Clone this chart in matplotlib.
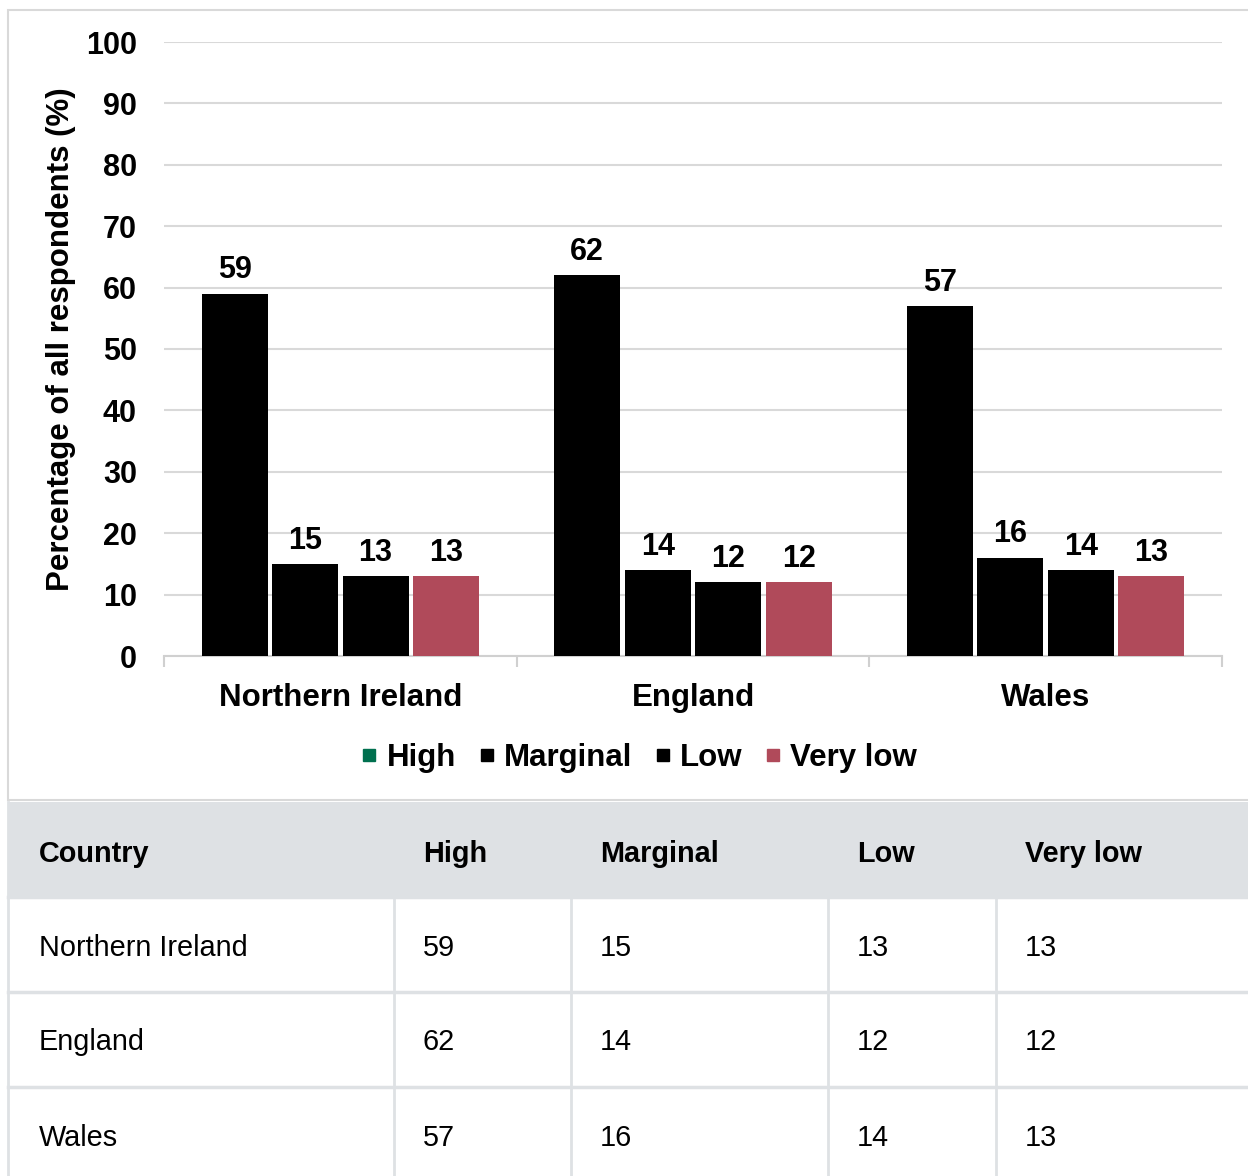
import matplotlib
matplotlib.use("Agg")
import matplotlib.pyplot as plt
from matplotlib.patches import Rectangle
from matplotlib.lines import Line2D
import numpy as np

plt.rcParams['font.family'] = ['Liberation Sans', 'DejaVu Sans']

# Food security levels by country (% of all respondents)
countries = ["Northern Ireland", "England", "Wales"]
levels = ["High", "Marginal", "Low", "Very low"]
high = [59, 62, 57]
marginal = [15, 14, 16]
low = [13, 12, 14]
very_low = [13, 12, 13]
y_ticks = [0, 10, 20, 30, 40, 50, 60, 70, 80, 90, 100]

bar_colors = ["#000000", "#000000", "#000000", "#b04a5a"]
legend_colors = ["#00704f", "#000000", "#000000", "#b04a5a"]

W, H = 1248, 1176
fig = plt.figure(figsize=(W / 100, H / 100), dpi=100)


def fx(px):
    return px / W


def fy(py):
    return 1 - py / H


# Panel frame around the chart
fig.add_artist(Rectangle((fx(8), fy(800)), fx(1260) - fx(8), fy(10) - fy(800),
                         transform=fig.transFigure, facecolor="white",
                         edgecolor="#d9d9d9", linewidth=1.5, zorder=0))

ax = fig.add_axes([fx(164), fy(656), fx(1222) - fx(164), fy(42) - fy(656)])
series = [high, marginal, low, very_low]
x = np.arange(len(countries))
pitch = 0.2
width = 0.187
for i, vals in enumerate(series):
    xs = x + (i - 1.5) * pitch
    ax.bar(xs, vals, width=width, color=bar_colors[i], zorder=3)
    for xb, v in zip(xs, vals):
        ax.annotate(f"{v}", (xb, v), xytext=(0, 6), textcoords="offset points",
                    ha="center", va="bottom", fontsize=22, fontweight="bold")

ax.set_xlim(-0.5, 2.5)
ax.set_ylim(0, 100)
ax.set_yticks(y_ticks)
ax.set_yticklabels([str(t) for t in y_ticks], fontsize=22, fontweight="bold")
ax.tick_params(axis="y", length=0, pad=19.5)
ax.yaxis.grid(True, color="#d9d9d9", linewidth=1.5, zorder=0)
ax.set_axisbelow(True)
for s in ["top", "right", "left"]:
    ax.spines[s].set_visible(False)
ax.spines["bottom"].set_color("#d0d0d0")
ax.spines["bottom"].set_linewidth(1.5)

ax.set_xticks([-0.5, 0.5, 1.5, 2.5])
ax.set_xticklabels([])
ax.tick_params(axis="x", which="major", length=8, width=1.5, color="#d0d0d0")
ax.set_xticks(x, minor=True)
ax.set_xticklabels(countries, minor=True, fontsize=22.5, fontweight="bold")
ax.tick_params(axis="x", which="minor", length=0, pad=19.5)

fig.text(fx(61), fy(339), "Percentage of all respondents (%)", rotation=90,
         ha="center", va="center", fontsize=22.5, fontweight="bold")

handles = [Line2D([0], [0], marker="s", linestyle="none", markersize=8.6,
                  markerfacecolor=c, markeredgecolor=c) for c in legend_colors]
fig.legend(handles, levels, loc="center", bbox_to_anchor=(fx(640), fy(758)),
           ncol=4, frameon=False, prop={"size": 22.5, "weight": "bold"},
           handletextpad=0.35, columnspacing=0.78, handlelength=0.4)

# Data table under the chart
col_edges = [8, 394, 571, 828, 996, 1260]
row_edges = [802, 897, 992, 1087, 1182]
grid_col = "#dee1e4"
fig.add_artist(Rectangle((fx(8), fy(897)), fx(1260) - fx(8), fy(802) - fy(897),
                         transform=fig.transFigure, facecolor=grid_col,
                         edgecolor="none", zorder=1))
for r in row_edges[1:-1]:
    fig.add_artist(Line2D([fx(8), fx(1260)], [fy(r), fy(r)], color=grid_col,
                          linewidth=2.5, transform=fig.transFigure))
for c in col_edges[:-1]:
    top = 802 if c == 8 else 897
    fig.add_artist(Line2D([fx(c), fx(c)], [fy(top), fy(1182)], color=grid_col,
                          linewidth=2, transform=fig.transFigure))

header = ["Country"] + levels
for j, txt in enumerate(header):
    off = 31 if j == 0 else 29
    fig.text(fx(col_edges[j] + off), fy(854), txt, ha="left", va="center",
             fontsize=20.8, fontweight="bold")
for i, name in enumerate(countries):
    yc = (row_edges[i + 1] + row_edges[i + 2]) / 2 + 3
    row = [name] + [str(s[i]) for s in series]
    for j, txt in enumerate(row):
        off = 31 if j == 0 else 29
        fig.text(fx(col_edges[j] + off), fy(yc), txt, ha="left", va="center",
                 fontsize=20.8)

fig.savefig("out.png", dpi=100)
